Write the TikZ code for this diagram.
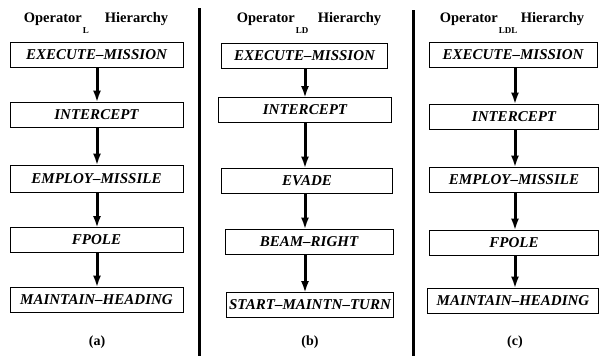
\documentclass[tikz,border=0pt]{standalone}
\usepackage{fontspec}
\setmainfont{Liberation Serif}
\usetikzlibrary{arrows.meta}
\tikzset{
  bx/.style={draw=black, line width=0.9pt, rectangle, inner sep=0pt, minimum height=25pt,
    font=\fontsize{15}{15}\selectfont\bfseries\itshape},
  arr/.style={line width=3pt, -{Latex[length=12pt,width=8pt]}, shorten >=-1pt},
  ttl/.style={anchor=base, inner sep=0pt, font=\fontsize{14.5}{15}\selectfont\bfseries},
  panlbl/.style={inner sep=0pt, font=\fontsize{14}{14}\selectfont\bfseries},
  sepline/.style={line width=3pt}
}
\newcommand{\subL}[1]{\kern1pt\makebox[22pt][l]{\raisebox{-11pt}{\fontsize{9}{9}\selectfont\bfseries #1}}}
\begin{document}
\begin{tikzpicture}[x=1pt,y=-1pt]
\useasboundingbox (0,0) rectangle (600,356);
% separators
\coordinate (s1t) at (199,8); \coordinate (s1b) at (199,356);
\coordinate (s2t) at (413,10); \coordinate (s2b) at (413,356);
\draw[sepline] (s1t) -- (s1b);
\draw[sepline] (s2t) -- (s2b);
% titles
\node[ttl] (ta) at (96,23) {Operator\subL{L}Hierarchy};
\node[ttl] (tb) at (309,23) {Operator\subL{LD}Hierarchy};
\node[ttl] (tc) at (512,23) {Operator\subL{LDL}Hierarchy};
% panel a
\node[bx, minimum width=173pt] (a1) at (96.5,54.5) {EXECUTE--MISSION};
\node[bx, minimum width=173pt] (a2) at (96.5,114.5) {INTERCEPT};
\node[bx, minimum width=173pt, minimum height=27pt] (a3) at (96.5,178.5) {EMPLOY--MISSILE};
\node[bx, minimum width=173pt] (a4) at (96.5,240) {FPOLE};
\node[bx, minimum width=173pt] (a5) at (96.5,299.5) {MAINTAIN--HEADING};
\node[panlbl] (la) at (97,342) {(a)};
% panel b
\node[bx, minimum width=166pt] (b1) at (304.5,55.5) {EXECUTE--MISSION};
\node[bx, minimum width=173pt] (b2) at (305,110) {INTERCEPT};
\node[bx, minimum width=171pt] (b3) at (307,180.5) {EVADE};
\node[bx, minimum width=168pt] (b4) at (309,241.5) {BEAM--RIGHT};
\node[bx, minimum width=167pt] (b5) at (310,305) {START--MAINTN--TURN};
\node[panlbl] (lb) at (310,342) {(b)};
% panel c
\node[bx, minimum width=168pt] (c1) at (513,55) {EXECUTE--MISSION};
\node[bx, minimum width=169pt] (c2) at (514,116.5) {INTERCEPT};
\node[bx, minimum width=169pt] (c3) at (514,179.5) {EMPLOY--MISSILE};
\node[bx, minimum width=169pt] (c4) at (514,242.5) {FPOLE};
\node[bx, minimum width=171pt] (c5) at (513,300.5) {MAINTAIN--HEADING};
\node[panlbl] (lc) at (515,342) {(c)};
% arrow columns
\coordinate (xa) at (97,0);
\coordinate (xb) at (305,0);
\coordinate (xc) at (515,0);
\foreach \p in {a,b,c}{
  \foreach \i/\j in {1/2,2/3,3/4,4/5}{
    \draw[arr] (x\p |- \p\i.south) -- (x\p |- \p\j.north);
  }
}
\end{tikzpicture}
\end{document}
